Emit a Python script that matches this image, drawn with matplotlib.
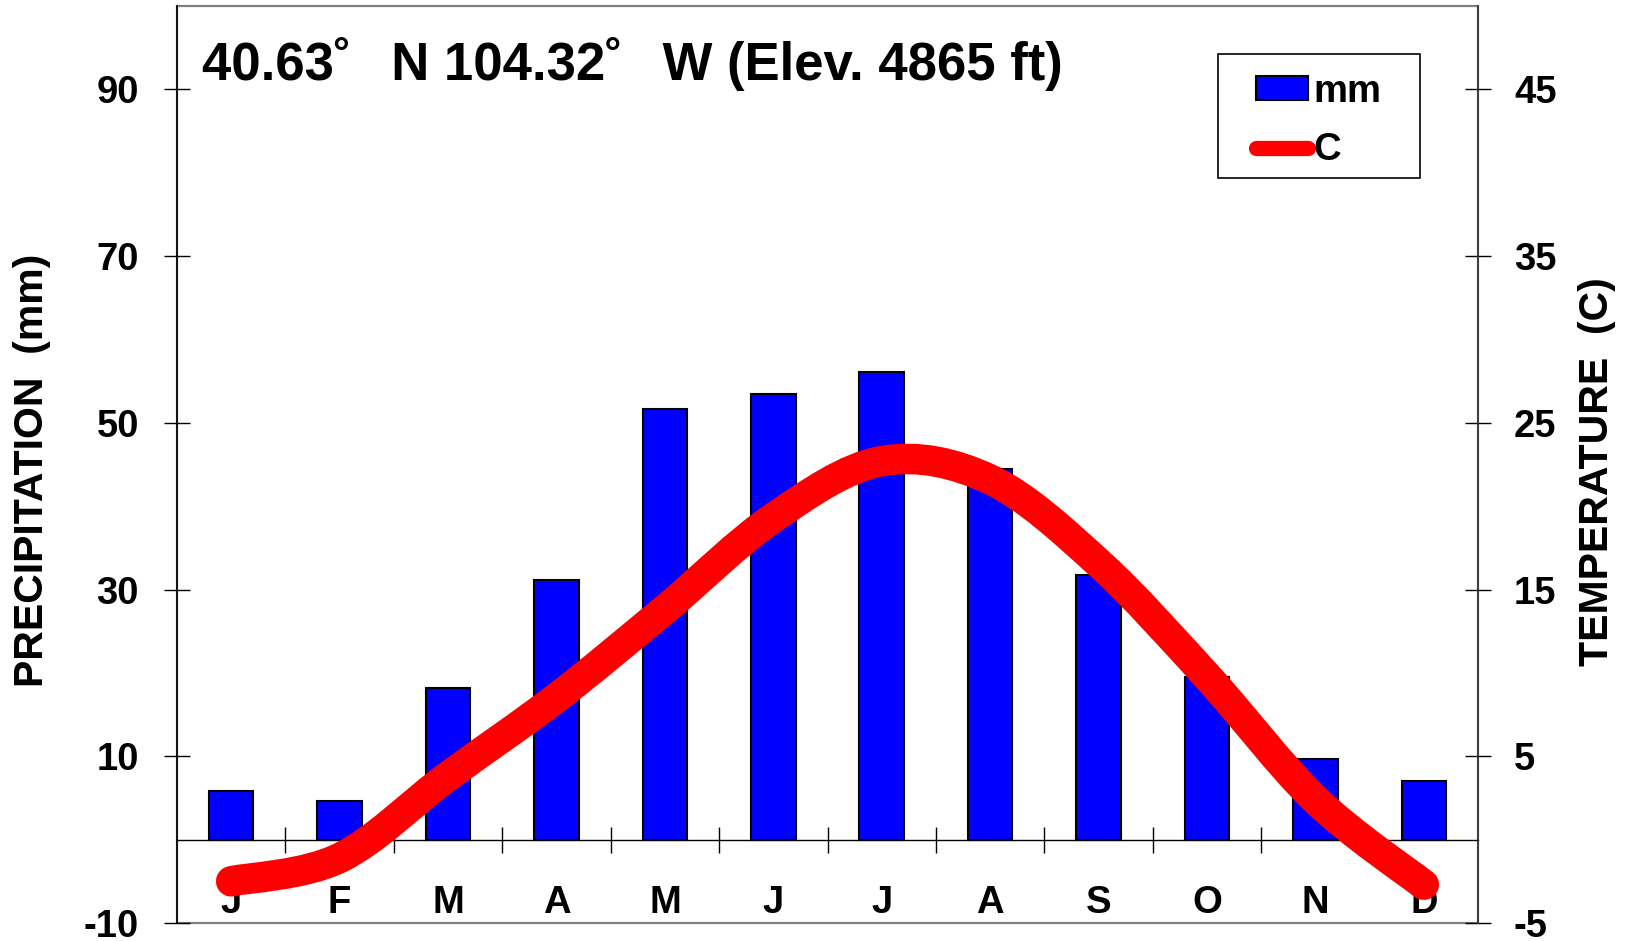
import numpy as np
import matplotlib
matplotlib.use("Agg")
import matplotlib.pyplot as plt
from matplotlib.path import Path
from matplotlib.patches import PathPatch, Patch, Rectangle
from matplotlib.lines import Line2D

plt.rcParams["font.family"] = ["Liberation Sans", "DejaVu Sans"]
plt.rcParams["font.weight"] = "bold"
plt.rcParams["axes.unicode_minus"] = False

months = ["J", "F", "M", "A", "M", "J", "J", "A", "S", "O", "N", "D"]
precip_mm = [5.8, 4.6, 18.2, 31.2, 51.6, 53.4, 56.1, 44.5, 31.8, 19.5, 9.7, 7.0]
temp_c = [-2.5, -1.1, 3.8, 8.5, 13.8, 19.3, 22.7, 21.6, 16.6, 9.8, 2.4, -2.7]
title = "40.63\u02da  \u2009N 104.32\u02da  \u2009W (Elev. 4865 ft)"

W, H = 1630, 941
fig = plt.figure(figsize=(W / 100, H / 100), dpi=100)
ax = fig.add_axes([177 / W, 1 - 923 / H, (1478 - 177) / W, (923 - 6) / H])
ax2 = ax.twinx()

x = np.arange(len(months))
ax.bar(x, precip_mm, width=0.41, color="#0000ff", edgecolor="black",
       linewidth=1.5, zorder=3)
ax.set_xlim(-0.5, 11.5)
ax.set_ylim(-10, 100)
ax2.set_ylim(-5, 50)

# smoothed temperature line (Excel style bezier through monthly points)
pts = np.column_stack([x, temp_c]).astype(float)
verts = [pts[0]]
codes = [Path.MOVETO]
n = len(pts)
for i in range(n - 1):
    p0 = pts[i - 1] if i > 0 else pts[i]
    p1, p2 = pts[i], pts[i + 1]
    p3 = pts[i + 2] if i + 2 < n else pts[i + 1]
    verts += [p1 + (p2 - p0) / 6, p2 - (p3 - p1) / 6, p2]
    codes += [Path.CURVE4] * 3
curve = PathPatch(Path(verts, codes), fill=False, edgecolor="#ff0000",
                  linewidth=22, capstyle="round", joinstyle="round", zorder=4)
ax2.add_patch(curve)

# axes styling
ax.spines["top"].set_visible(False)
ax.spines["right"].set_visible(False)
ax.spines["bottom"].set_position(("data", 0))
for s in ["top", "bottom", "left"]:
    ax2.spines[s].set_visible(False)
ax.spines["left"].set_linewidth(1.2)
ax2.spines["right"].set_linewidth(1.2)
ax2.spines["right"].set_color("#333333")
ax.spines["bottom"].set_linewidth(1.0)
ax.add_patch(Rectangle((0, 0), 1, 1, transform=ax.transAxes, fill=False,
                       edgecolor="#808080", linewidth=1.6, clip_on=False,
                       zorder=0.5))

ax.set_yticks([-10, 10, 30, 50, 70, 90])
ax2.set_yticks([-5, 5, 15, 25, 35, 45])
ax.tick_params(axis="y", direction="inout", length=18.7, width=1,
               labelsize=27.5, pad=18)
ax2.tick_params(axis="y", direction="inout", length=18.7, width=1,
                labelsize=27.5, pad=16.5)
ax.set_xticks(x)
ax.set_xticklabels(months, fontsize=27.5)
ax.set_xticks(np.arange(0.5, 11, 1), minor=True)
ax.tick_params(axis="x", which="major", length=0, pad=33)
ax.tick_params(axis="x", which="minor", direction="inout", length=18.7,
               width=1)

fig.text(202 / W, 1 - 80 / H, title, fontsize=38, fontweight="bold",
         ha="left", va="baseline")
fig.text(32 / W, 1 - 470 / H, "PRECIPITATION  (mm)", rotation=90,
         fontsize=29.5, fontweight="bold", ha="center", va="center")
fig.text(1597 / W, 1 - 472 / H, "TEMPERATURE  (C)", rotation=90,
         fontsize=29.5, fontweight="bold", ha="center", va="center")

# legend with separate frame
fig.patches.append(Rectangle((1218 / W, 1 - 178 / H), 202 / W, 124 / H,
                             transform=fig.transFigure, fill=False,
                             edgecolor="black", linewidth=1.2))
handles = [Patch(facecolor="#0000ff", edgecolor="black", linewidth=1.5),
           Line2D([], [], color="#ff0000", linewidth=11,
                  solid_capstyle="round")]
fig.legend(handles, ["mm", "C"], loc="center",
           bbox_to_anchor=(1319 / W, 1 - 121 / H), frameon=False,
           fontsize=27.5, borderpad=0, handlelength=1.36, handleheight=0.576,
           handletextpad=0.15, labelspacing=0.6)

fig.savefig("out.png", dpi=100)
